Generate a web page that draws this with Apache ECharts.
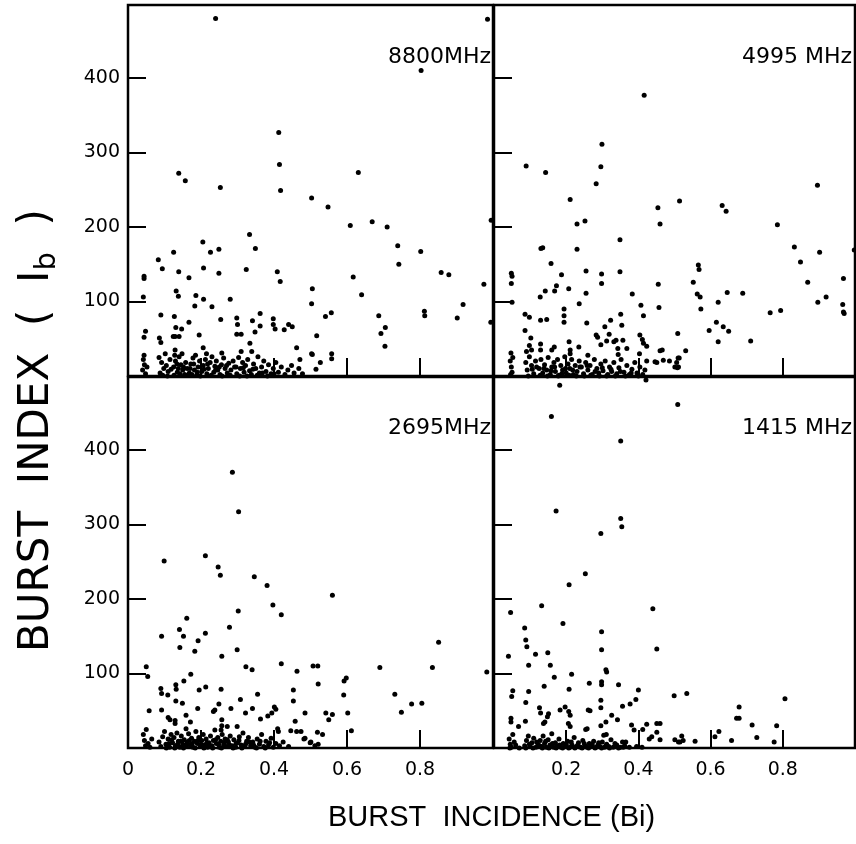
<!DOCTYPE html>
<html><head><meta charset="utf-8">
<script src="https://cdn.jsdelivr.net/npm/echarts@6/dist/echarts.min.js"></script>
<style>html,body{margin:0;padding:0;background:#fff}#c{width:856px;height:844px}</style>
</head><body><div id="c"></div>
<script>
var panelLabels = ['8800MHz', '4995 MHz', '2695MHz', '1415 MHz'];
var xTicks = [0, 0.2, 0.4, 0.6, 0.8];
var yTicks = [100, 200, 300, 400];

var data8800 = [
[0.240,480],[0.985,479],[0.803,410],[0.413,327],[0.415,284],[0.418,249],[0.139,272],[0.157,262],[0.253,253],[0.631,273],[0.503,239],[0.548,227],[0.609,202],[0.669,207],[0.710,200],[0.995,209],[0.333,190],[0.349,171],[0.205,180],[0.226,166],[0.249,170],[0.125,166],[0.083,156],[0.094,144],[0.139,140],[0.167,132],[0.207,145],[0.249,138],[0.324,143],[0.409,140],[0.417,127],[0.505,117],[0.617,133],[0.640,109],[0.739,175],[0.742,150],[0.802,167],[0.858,139],[0.879,136],[0.975,123],[0.044,131],[0.044,134],[0.042,106],[0.132,114],[0.138,107],[0.186,108],[0.207,103],[0.280,103],
[0.503,97],[0.183,94],[0.230,93],[0.090,82],[0.127,80],[0.167,72],[0.131,65],[0.147,63],[0.254,76],[0.298,78],[0.300,69],[0.298,56],[0.310,56],[0.341,74],[0.362,84],[0.362,67],[0.348,59],[0.398,77],[0.398,69],[0.403,63],[0.428,62],[0.440,69],[0.450,66],[0.048,60],[0.044,52],[0.086,51],[0.090,45],[0.124,53],[0.129,53],[0.140,53],[0.195,55],[0.206,38],[0.129,35],[0.257,31],[0.310,33],[0.334,44],[0.339,33],[0.462,38],[0.503,30],[0.471,22],
[0.541,80],[0.557,85],[0.687,81],[0.705,65],[0.693,57],[0.704,40],[0.517,54],[0.505,29],[0.558,30],[0.558,23],[0.527,18],[0.515,9],[0.812,87],[0.813,81],[0.902,78],[0.918,96],[0.994,72],
[0.042,22],[0.045,15],[0.040,8],[0.048,3],[0.052,12],[0.044,28],
[0.085,25],[0.092,18],[0.098,10],[0.088,4],[0.105,14],[0.110,6],[0.115,22],[0.102,30],[0.095,1],
[0.125,12],[0.130,20],[0.135,5],[0.140,26],[0.145,15],[0.150,8],[0.155,2],[0.128,28],[0.158,18],[0.148,30],[0.138,10],
[0.162,10],[0.168,4],[0.172,16],[0.178,24],[0.182,8],[0.188,1],[0.192,12],[0.196,20],[0.175,2],[0.185,28],
[0.202,6],[0.206,14],[0.212,22],[0.216,3],[0.220,10],[0.225,18],[0.230,26],[0.235,5],[0.238,13],[0.215,30],
[0.242,20],[0.246,8],[0.252,2],[0.256,15],[0.262,24],[0.266,10],[0.272,4],[0.276,17],
[0.282,8],[0.288,20],[0.292,12],[0.298,3],[0.303,25],[0.308,10],[0.314,18],[0.318,5],
[0.322,14],[0.328,22],[0.333,7],[0.338,2],[0.344,16],[0.350,10],[0.356,26],[0.360,4],
[0.366,12],[0.372,20],[0.378,6],[0.385,15],[0.392,3],[0.398,10],
[0.405,18],[0.412,5],[0.420,12],[0.430,2],[0.438,8],[0.448,14],[0.455,4],[0.468,10],[0.478,3],
[0.108,0],[0.118,9],[0.126,1],[0.134,16],[0.142,3],[0.152,12],[0.160,1],[0.170,10],[0.180,16],[0.190,5],[0.198,0],[0.208,9],[0.218,16],[0.228,1],[0.240,8],[0.250,12],[0.258,0],[0.270,14],[0.280,1],[0.296,12],[0.306,0],[0.316,11],[0.326,0],[0.342,9],[0.354,1],[0.368,4],[0.382,0],[0.400,3]
];

var data4995 = [
[0.416,377],[0.299,311],[0.296,281],[0.283,258],[0.089,282],[0.143,273],[0.211,237],[0.230,204],[0.252,208],[0.454,226],[0.460,204],[0.514,235],[0.632,229],[0.643,221],[0.785,203],[0.896,256],[0.349,183],[0.230,170],[0.130,171],[0.135,172],[0.158,151],[0.187,136],[0.048,138],[0.050,134],[0.048,124],[0.255,141],[0.298,137],[0.349,140],[0.298,124],[0.455,123],[0.552,126],[0.566,149],[0.568,143],[0.128,106],[0.142,114],[0.168,114],[0.173,121],[0.207,117],[0.255,111],[0.383,110],[0.563,110],[0.571,106],[0.646,112],[0.689,111],[0.832,173],[0.849,153],[0.902,166],[0.998,169],[0.869,126],[0.968,131],[0.920,106],
[0.050,99],[0.236,97],[0.407,95],[0.457,92],[0.414,81],[0.086,83],[0.098,79],[0.194,90],[0.194,81],[0.194,72],[0.129,75],[0.146,76],[0.257,71],[0.323,75],[0.307,66],[0.351,83],[0.354,68],[0.086,61],[0.102,51],[0.098,41],[0.129,43],[0.129,35],[0.208,46],[0.283,55],[0.287,52],[0.319,56],[0.312,47],[0.332,46],[0.338,48],[0.296,42],[0.357,48],[0.343,37],[0.344,29],[0.368,37],[0.404,55],[0.411,49],[0.414,44],[0.423,40],[0.509,57],[0.235,39],[0.047,31],[0.090,33],[0.104,35],[0.160,35],[0.167,39],[0.211,35],[0.211,30],[0.260,28],[0.460,34],[0.466,35],[0.403,30],[0.510,24],[0.423,20],[0.446,19],[0.451,18],[0.469,21],[0.486,20],[0.501,12],[0.511,12],
[0.573,90],[0.621,99],[0.616,72],[0.596,61],[0.635,66],[0.650,60],[0.621,46],[0.711,47],[0.765,85],[0.794,88],[0.897,99],[0.966,96],[0.968,86],[0.970,84],[0.531,34],[0.513,24],[0.506,18],[0.508,11],
[0.045,20],[0.048,12],[0.050,5],[0.052,25],[0.046,2],
[0.088,18],[0.092,8],[0.098,26],[0.104,14],[0.110,3],[0.115,20],
[0.125,10],[0.130,22],[0.135,4],[0.140,15],[0.146,8],[0.150,25],[0.156,2],[0.160,12],
[0.166,18],[0.170,6],[0.176,22],[0.180,1],[0.185,14],[0.190,8],[0.196,26],
[0.200,4],[0.205,16],[0.210,10],[0.215,22],[0.220,2],[0.225,14],[0.230,6],[0.236,20],
[0.242,12],[0.248,3],[0.254,18],[0.260,8],[0.266,14],[0.272,2],[0.278,22],
[0.285,10],[0.290,4],[0.296,16],[0.302,7],[0.308,20],[0.315,2],[0.320,12],
[0.326,6],[0.332,18],[0.340,3],[0.346,11],[0.352,22],[0.360,5],[0.368,14],
[0.375,2],[0.382,9],[0.390,18],[0.396,4],[0.404,12],[0.412,2],[0.418,8],
[0.095,0],[0.106,9],[0.118,12],[0.128,1],[0.138,10],[0.148,0],[0.158,7],[0.168,12],[0.178,0],[0.188,3],[0.198,10],[0.208,1],[0.218,8],[0.228,0],[0.238,12],[0.250,0],[0.258,14],[0.268,1],[0.280,6],[0.292,0],[0.300,11],[0.312,0],[0.324,9],[0.336,0],[0.350,6],[0.364,0],[0.380,4],[0.400,0]
];

var data2695 = [
[0.286,370],[0.303,317],[0.099,251],[0.212,258],[0.247,243],[0.253,232],[0.346,230],[0.381,218],[0.397,192],[0.420,179],[0.560,205],[0.302,184],[0.161,174],[0.278,162],[0.141,159],[0.152,150],[0.092,150],[0.212,154],[0.192,144],[0.142,135],[0.183,130],[0.257,123],[0.299,132],[0.050,109],[0.323,109],[0.340,105],[0.420,113],[0.463,103],[0.507,110],[0.520,110],[0.690,108],[0.834,108],[0.851,142],[0.983,102],[0.172,99],
[0.054,96],[0.153,90],[0.090,80],[0.092,73],[0.109,71],[0.131,85],[0.132,79],[0.131,63],[0.149,60],[0.195,78],[0.213,82],[0.255,79],[0.058,50],[0.092,51],[0.159,44],[0.191,53],[0.110,41],[0.115,38],[0.129,37],[0.129,33],[0.171,35],[0.159,26],[0.234,49],[0.238,51],[0.249,59],[0.282,53],[0.257,38],[0.308,65],[0.322,47],[0.341,53],[0.355,72],[0.363,39],[0.383,43],[0.394,47],[0.401,55],[0.405,52],[0.410,26],[0.412,22],[0.446,23],[0.453,78],[0.453,63],[0.458,36],[0.462,22],[0.474,22],[0.485,47],[0.482,12],[0.501,8],
[0.521,86],[0.592,90],[0.598,94],[0.591,71],[0.731,72],[0.777,59],[0.805,60],[0.749,48],[0.542,47],[0.560,45],[0.550,38],[0.602,47],[0.519,21],[0.533,18],[0.612,23],[0.499,7],[0.512,3],[0.521,5],[0.485,13],
[0.299,29],[0.272,29],[0.257,30],[0.255,24],
[0.042,18],[0.045,10],[0.048,3],[0.050,25],[0.055,6],
[0.085,8],[0.090,2],[0.095,15],[0.100,22],[0.104,5],[0.110,12],[0.114,1],[0.118,18],
[0.122,7],[0.126,14],[0.130,3],[0.134,20],[0.138,9],[0.142,1],[0.146,16],[0.150,5],[0.154,11],[0.158,2],
[0.162,8],[0.166,19],[0.170,4],[0.174,13],[0.178,1],[0.182,9],[0.186,22],[0.190,6],[0.194,14],[0.198,2],
[0.202,10],[0.206,18],[0.210,4],[0.214,12],[0.218,1],[0.222,7],[0.226,16],[0.230,3],[0.234,10],[0.238,24],
[0.242,6],[0.246,14],[0.250,1],[0.254,9],[0.258,18],[0.262,4],[0.266,12],[0.270,2],[0.275,8],[0.280,16],
[0.285,3],[0.290,11],[0.295,1],[0.300,7],[0.305,15],[0.310,4],[0.315,20],[0.320,2],[0.325,9],[0.330,14],
[0.336,3],[0.342,8],[0.348,1],[0.354,12],[0.360,5],[0.366,18],[0.372,2],[0.378,9],[0.385,4],[0.392,13],[0.398,1],[0.405,6],[0.415,3],[0.425,8],[0.440,2],
[0.105,0],[0.112,6],[0.120,11],[0.128,0],[0.136,5],[0.144,9],[0.152,0],[0.160,4],[0.168,10],[0.176,6],[0.184,0],[0.192,10],[0.200,5],[0.208,0],[0.216,7],[0.224,3],[0.232,0],[0.240,11],[0.248,5],[0.256,0],[0.264,7],[0.272,11],[0.278,4],[0.288,0],[0.296,6],[0.304,10],[0.312,0],[0.322,5],[0.332,8],[0.344,4],[0.352,0],[0.362,9],[0.376,0],[0.388,7],[0.060,1],[0.065,12]
];

var data1415 = [
[0.182,487],[0.421,494],[0.509,461],[0.159,445],[0.351,412],[0.172,318],[0.351,308],[0.354,297],[0.296,288],[0.253,234],[0.208,219],[0.132,191],[0.440,187],[0.046,182],[0.191,167],[0.085,161],[0.298,156],[0.088,145],[0.091,136],[0.115,126],[0.149,128],[0.040,123],[0.298,132],[0.451,133],[0.096,111],[0.156,111],[0.215,99],[0.310,105],[0.312,102],
[0.167,95],[0.139,83],[0.208,79],[0.264,87],[0.298,89],[0.298,85],[0.345,85],[0.400,78],[0.499,70],[0.052,77],[0.049,69],[0.096,76],[0.088,61],[0.296,64],[0.126,54],[0.129,47],[0.151,46],[0.148,42],[0.183,51],[0.197,55],[0.207,49],[0.211,44],[0.261,51],[0.266,50],[0.296,54],[0.356,56],[0.377,59],[0.393,65],[0.326,44],[0.342,38],[0.310,35],[0.296,30],[0.047,40],[0.047,35],[0.087,36],[0.137,33],[0.141,35],[0.206,33],[0.211,29],[0.254,25],[0.258,26],[0.068,29],[0.381,31],[0.388,24],[0.412,25],[0.423,32],[0.451,33],[0.460,33],[0.451,21],[0.437,15],[0.430,12],[0.304,17],[0.311,18],[0.356,8],[0.365,8],[0.460,11],[0.501,11],[0.511,8],
[0.534,73],[0.806,66],[0.679,55],[0.672,40],[0.679,40],[0.715,31],[0.783,30],[0.623,22],[0.612,15],[0.728,14],[0.520,16],[0.515,8],[0.524,10],[0.557,9],[0.658,10],[0.776,8],
[0.042,12],[0.045,5],[0.048,1],[0.052,18],[0.056,8],
[0.085,3],[0.090,10],[0.095,16],[0.100,2],[0.105,7],[0.110,13],[0.116,1],
[0.122,5],[0.128,10],[0.132,2],[0.136,16],[0.140,6],[0.145,1],[0.150,11],[0.155,4],[0.160,19],[0.165,1],
[0.170,7],[0.175,3],[0.180,12],[0.186,1],[0.192,6],[0.198,2],[0.204,9],[0.210,1],[0.216,4],[0.222,14],
[0.228,2],[0.234,7],[0.240,1],[0.246,10],[0.252,3],[0.258,1],[0.264,6],[0.270,2],[0.276,9],[0.282,1],
[0.288,4],[0.294,2],[0.300,8],[0.306,1],[0.312,5],[0.318,2],[0.324,11],[0.330,1],[0.340,4],[0.350,1],[0.362,3],[0.375,1],[0.395,2],[0.410,1],
[0.088,0],[0.098,5],[0.108,0],[0.118,8],[0.126,3],[0.134,0],[0.143,9],[0.152,0],[0.162,6],[0.172,0],[0.182,4],[0.190,0],[0.200,5],[0.207,0],[0.214,8],[0.224,0],[0.232,4],[0.244,0],[0.250,6],[0.262,0],[0.272,5],[0.280,0],[0.290,7],[0.298,0],[0.310,3],[0.320,0],[0.335,6],[0.345,0],[0.358,1],[0.044,0],[0.060,4],[0.070,0]
];

var seriesData = [data8800, data4995, data2695, data1415];

var FONT = 'DejaVu Sans';
var grids = [
  {left:128, top:5, width:365, height:371},
  {left:494, top:5, width:361, height:371},
  {left:128, top:377, width:365, height:371},
  {left:494, top:377, width:361, height:371}
];
var xAxes = [], yAxes = [], series = [], graphics = [];
for (var i = 0; i < 4; i++) {
  var g = grids[i];
  g.show = true; g.borderColor = '#000'; g.borderWidth = 2.5; g.containLabel = false;
  var bottomRow = i >= 2, leftCol = (i % 2 === 0);
  (function(bottomRow, leftCol){
  xAxes.push({
    type:'value', gridIndex:i, min:0, max:1, interval:0.2,
    axisLine:{show:false}, splitLine:{show:false},
    axisTick:{show:true, inside:true, length:18, lineStyle:{color:'#000', width:2}},
    axisLabel:{show:bottomRow, margin:13, color:'#000', fontFamily:FONT, fontSize:19,
      showMaxLabel:false,
      formatter:function(v){
        for (var k=0;k<xTicks.length;k++){ if (Math.abs(xTicks[k]-v)<1e-6){
          if (xTicks[k]===0) return leftCol ? '0' : '';
          return xTicks[k].toFixed(1);
        }}
        return '';
      }}
  });
  yAxes.push({
    type:'value', gridIndex:i, min:0, max:498, interval:100,
    axisLine:{show:false}, splitLine:{show:false},
    axisTick:{show:true, inside:true, length:18, lineStyle:{color:'#000', width:2}},
    axisLabel:{show:leftCol, margin:8, color:'#000', fontFamily:FONT, fontSize:19,
      showMaxLabel:false,
      formatter:function(v){ return yTicks.indexOf(v) >= 0 ? String(v) : ''; }}
  });
  })(bottomRow, leftCol);
  series.push({
    type:'scatter', xAxisIndex:i, yAxisIndex:i, data:seriesData[i],
    symbol:'circle', symbolSize:5, itemStyle:{color:'#000', opacity:1}, silent:true, animation:false
  });
  graphics.push({
    type:'text', right: leftCol ? (856-491) : 4, top: g.top + (i<2 ? 41 : 40),
    style:{text:panelLabels[i], font:'22px "DejaVu Sans"', fill:'#000'}
  });
}
graphics.push({
  type:'text', left:328, top:803,
  style:{text:'BURST  INCIDENCE (Bi)', font:'29px "Liberation Sans"', fill:'#000'}
});
graphics.push({
  type:'text', x:16, y:652, rotation:Math.PI/2,
  style:{text:'{a|BURST  INDEX  (  I}{s|b}{a|  )}', fill:'#000',
    rich:{a:{fontFamily:'DejaVu Sans', fontSize:42, fill:'#000', verticalAlign:'top'},
          s:{fontFamily:'DejaVu Sans', fontSize:29, fill:'#000', padding:[17,0,0,0]}}}
});

var chart = echarts.init(document.getElementById('c'), null, {renderer:'canvas'});
chart.setOption({
  animation:false,
  grid:grids, xAxis:xAxes, yAxis:yAxes, series:series, graphic:graphics
});
</script></body></html>
